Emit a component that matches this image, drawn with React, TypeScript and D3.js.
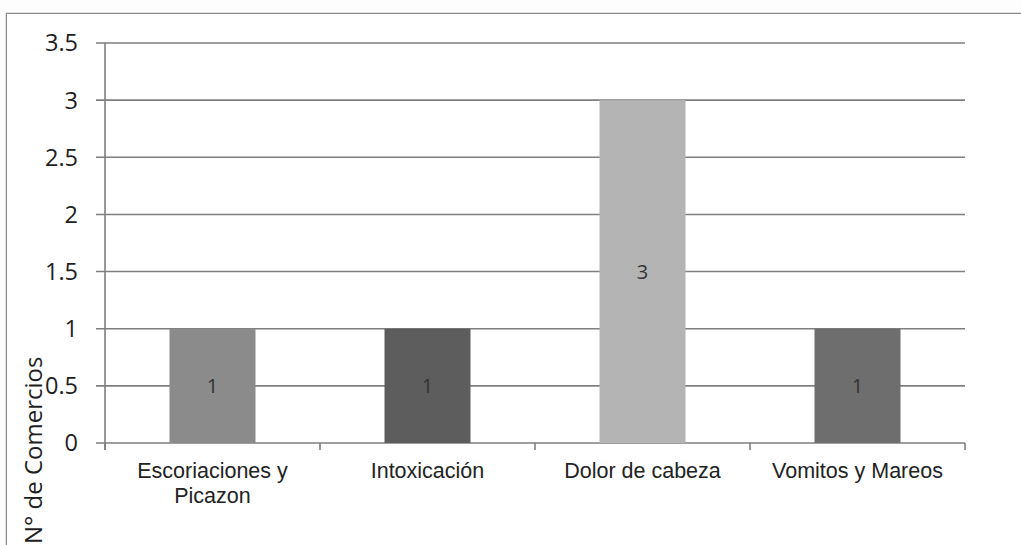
import React from "react";
import * as d3 from "d3";

const categories = ["Escoriaciones y\nPicazon", "Intoxicación", "Dolor de cabeza", "Vomitos y Mareos"];
const values = [1, 1, 3, 1];
const barColors = ["#8b8b8b", "#5d5d5d", "#b4b4b4", "#6e6e6e"];
const yTicks = [0, 0.5, 1, 1.5, 2, 2.5, 3, 3.5];
const yTickLabels = ["0", "0.5", "1", "1.5", "2", "2.5", "3", "3.5"];
const yTitle = "N° de Comercios";

const W = 1021, H = 545;
const left = 105, right = 965, top = 43, bottom = 443;

export default function App() {
  const x = d3.scaleBand<number>().domain(d3.range(categories.length)).range([left, right]).paddingInner(0.6).paddingOuter(0.3);
  const y = d3.scaleLinear().domain([0, 3.5]).range([bottom, top]);
  const step = (right - left) / categories.length;
  const boundaries = d3.range(categories.length + 1).map((i) => left + i * step);
  return (
    <svg width={W} height={H} style={{ position: "absolute", left: 0, top: 0, background: "#fff" }}>
      <rect x={0} y={0} width={W} height={H} fill="#fdfdfd" />
      <line x1={6} x2={W} y1={13.5} y2={13.5} stroke="#8a8a8a" strokeWidth={1.5} />
      <line x1={6.5} x2={6.5} y1={13} y2={H} stroke="#8a8a8a" strokeWidth={1.5} />
      <rect x={7} y={14} width={W - 7} height={H - 14} fill="#fff" />
      {yTicks.map((t, i) => (
        <g key={t}>
          <line x1={96} x2={right} y1={y(t)} y2={y(t)} stroke="#7f7f7f" strokeWidth={1.6} />
          <text x={78} y={y(t)} dy="0.36em" textAnchor="end" fontFamily="'Open Sans', sans-serif" fontSize={23.5} fill="#1e1e1e">
            {yTickLabels[i]}
          </text>
        </g>
      ))}
      <line x1={left} x2={left} y1={top} y2={bottom + 7} stroke="#7f7f7f" strokeWidth={1.6} />
      {boundaries.map((b, i) => (
        <line key={i} x1={b} x2={b} y1={bottom} y2={bottom + 7} stroke="#7f7f7f" strokeWidth={1.6} />
      ))}
      {values.map((v, i) => (
        <g key={i}>
          <rect x={x(i)} y={y(v)} width={x.bandwidth()} height={y(0) - y(v)} fill={barColors[i]} />
          <text x={(x(i) as number) + x.bandwidth() / 2} y={(y(v) + y(0)) / 2} dy="0.36em" textAnchor="middle" fontFamily="'Open Sans', sans-serif" fontSize={20} fill="#333">
            {v}
          </text>
        </g>
      ))}
      {categories.map((c, i) => {
        const lines = c.split("\n");
        const cx = left + (i + 0.5) * step;
        return (
          <text key={i} x={cx} y={478} textAnchor="middle" fontFamily="'Liberation Sans', Arial, sans-serif" fontSize={21.5} fill="#222">
            {lines.map((l, j) => (
              <tspan key={j} x={cx} dy={j === 0 ? 0 : 25}>{l}</tspan>
            ))}
          </text>
        );
      })}
      <text transform="translate(42,544) rotate(-90)" textAnchor="start" fontFamily="'Open Sans', sans-serif" fontSize={24} fill="#1e1e1e">
        {yTitle}
      </text>
    </svg>
  );
}
